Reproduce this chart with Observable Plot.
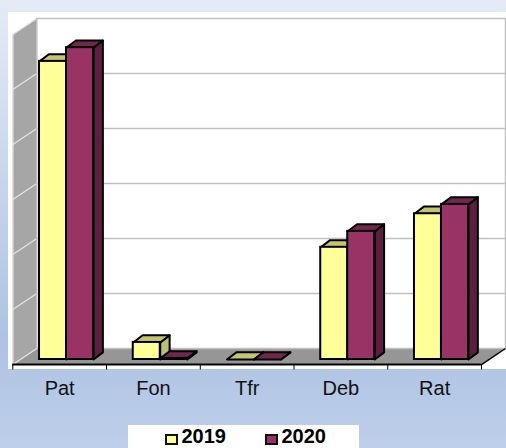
<!DOCTYPE html>
<html><head><meta charset="utf-8">
<script src="https://cdn.jsdelivr.net/npm/d3@7"></script>
<script src="https://cdn.jsdelivr.net/npm/@observablehq/plot@0.6"></script>
<style>
html,body{margin:0;padding:0;width:506px;height:448px;overflow:hidden}
html{background:#bdcfea}
body{background:linear-gradient(180deg,#e4ebf6 0,#aec2e2 76%,#bdcfea 100%);font-family:"Liberation Sans",Arial,sans-serif}
#legend{position:relative;margin-left:128px;width:231px;height:23px;background:#fff;font-weight:bold;font-size:20px;line-height:20px;color:#000}
#legend span{position:absolute;top:1px}
#legend i{position:absolute;top:9px;width:9px;height:7px;border:2px solid #111}
</style></head><body>
<div id="chart"></div>
<div id="legend"></div>
<script>
const categories = ["Pat", "Fon", "Tfr", "Deb", "Rat"];
const seriesNames = ["2019", "2020"];
const values2019 = [54.2, 3.1, 0, 20.4, 26.5];
const values2020 = [56.7, 0.2, 0, 23.3, 28.2];
const gridValues = [0, 10, 20, 30, 40, 50, 60];
const faceColors = {
  "2019": {front: "#ffff99", top: "#c4c473", side: "#bfbf73"},
  "2020": {front: "#993366", top: "#732650", side: "#5c1f3d"}
};
const barStart = 0.285, barWidth = 0.288, barDx = 0.1, barDy = 1.3;
const backDx = 0.256, backDy = 2, frontDy = -0.91, wallHigh = 60;

const polys = [];
let id = 0;
function poly(points, fill, stroke) {
  id++;
  for (const [x, y] of points) polys.push({x, y, id, fill, stroke});
}
const xEnd = categories.length;
poly([[0, frontDy], [backDx, backDy], [backDx, backDy + wallHigh], [0, frontDy + wallHigh]], "#a6a6a6", "none");
poly([[0, frontDy], [backDx, backDy], [xEnd + backDx, backDy], [xEnd, frontDy]], "#969696", "none");
const bars = [];
categories.forEach((c, i) => {
  [values2019[i], values2020[i]].forEach((v, s) => {
    const col = faceColors[seriesNames[s]];
    const x0 = i + barStart + s * barWidth, x1 = x0 + barWidth;
    poly([[x1, 0], [x1 + barDx, barDy], [x1 + barDx, v + barDy], [x1, v]], col.side, "#000");
    poly([[x0, v], [x1, v], [x1 + barDx, v + barDy], [x0 + barDx, v + barDy]], col.top, "#000");
    bars.push({x1: x0, x2: x1, y1: 0, y2: v, fill: col.front});
  });
});
const barPolys = polys.filter(p => p.stroke === "#000");
const wallPolys = polys.filter(p => p.stroke !== "#000");
const barIds = [...new Set(barPolys.map(p => p.id))];

const barMarks = bars.flatMap((b, k) => [
  Plot.line(barPolys.filter(p => p.id === barIds[2 * k] || p.id === barIds[2 * k + 1]), {
    x: "x", y: "y", z: "id", fill: {value: "fill", scale: null}, stroke: "#000",
    strokeWidth: 2, curve: "linear-closed", strokeLinejoin: "round"
  }),
  Plot.rect([b], {x1: "x1", x2: "x2", y1: "y1", y2: "y2", fill: "fill", stroke: "#000", strokeWidth: 2})
]);

const chart = Plot.plot({
  width: 506, height: 425,
  marginLeft: 12.3, marginRight: 25, marginTop: 29, marginBottom: 66,
  x: {domain: [0, 5], axis: null},
  y: {domain: [0, 60], axis: null},
  style: {background: "linear-gradient(#fff,#fff) no-repeat 8px 12px / 498px 357px", display: "block"},
  marks: [
    Plot.line(wallPolys, {x: "x", y: "y", z: "id", fill: {value: "fill", scale: null}, stroke: null, curve: "linear-closed"}),
    Plot.ruleY(gridValues, {y: d => d + backDy, x1: backDx, x2: xEnd + backDx, stroke: "#c0c0c0", strokeWidth: 1.5}),
    Plot.link(gridValues, {x1: 0, x2: backDx, y1: d => d + frontDy, y2: d => d + backDy, stroke: "#e4e4e4", strokeWidth: 1.2}),
    Plot.ruleX([0], {y1: frontDy, y2: frontDy + wallHigh, stroke: "#e4e4e4", strokeWidth: 1.5}),
    Plot.ruleX([backDx, xEnd + backDx], {y1: backDy, y2: backDy + wallHigh, stroke: "#c0c0c0", strokeWidth: 1.5}),
    ...barMarks,
    Plot.link([0], {x1: xEnd, x2: xEnd + backDx, y1: frontDy, y2: backDy, stroke: "#000", strokeWidth: 1.5}),
    Plot.ruleY([frontDy], {x1: 0, x2: xEnd, stroke: "#000", strokeWidth: 2}),
    Plot.ruleX(d3.range(categories.length + 1), {y1: frontDy, y2: frontDy - 1, stroke: "#000", strokeWidth: 1}),
    Plot.axisX({
      ticks: categories.map((c, i) => i + 0.5),
      tickFormat: d => categories[Math.floor(d)],
      tickSize: 0, tickPadding: 21, fontSize: 20,
      fontFamily: "Liberation Sans", label: null, stroke: "#000", fill: "#111"
    })
  ]
});
document.getElementById("chart").append(chart);

const legend = document.getElementById("legend");
seriesNames.forEach((s, i) => {
  const x = 37 + i * 100;
  const sw = document.createElement("i");
  sw.style.left = x + "px";
  sw.style.background = faceColors[s].front;
  legend.append(sw);
  const t = document.createElement("span");
  t.style.left = (x + 16.5) + "px";
  t.textContent = s;
  legend.append(t);
});
</script>
</body></html>
